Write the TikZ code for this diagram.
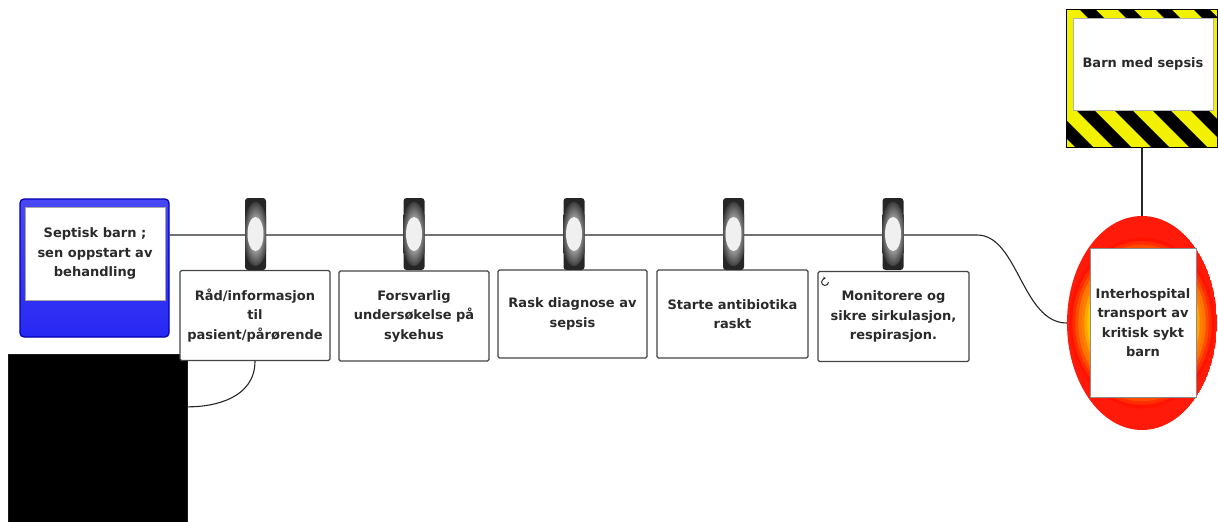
\documentclass[tikz,border=0pt]{standalone}
\usepackage{fontspec}
\setmainfont{DejaVu Sans}
\usetikzlibrary{shapes.geometric,calc,arrows.meta}

\definecolor{inkgray}{HTML}{2A2A2A}
\definecolor{framegray}{HTML}{444444}
\definecolor{bandblue}{HTML}{2828F4}
\definecolor{hazyellow}{HTML}{F2F200}
\definecolor{glowred}{HTML}{FF1A0A}

\tikzset{
  txt/.style={font=\fontsize{13}{19.5}\selectfont\bfseries, text=inkgray, align=center},
  stepbox/.style={txt, draw=framegray, line width=1.1pt, fill=white,
    rounded corners=1.5pt, minimum width=150, minimum height=90, inner sep=1pt},
  clipbar/.style={fill=black!85, rounded corners=3pt, minimum width=21,
    minimum height=72, inner sep=0pt,
    path picture={
      \shade[inner color=white, outer color=black!85]
        (path picture bounding box.center) ellipse [x radius=13, y radius=32];
      \fill[white!94!black] (path picture bounding box.center) ellipse [x radius=8, y radius=17];
    }},
  wire/.style={draw=black!85, line width=1.1pt},
}

\begin{document}
\begin{tikzpicture}[x=1pt, y=-1pt]
\useasboundingbox (0,0) rectangle (1218,522);

% --- start box (blue frame with white label) ---
\node[draw=blue!70!black, line width=1.2pt, rounded corners=4pt,
      top color=bandblue!85, bottom color=bandblue,
      minimum width=149, minimum height=138, inner sep=0pt] (start) at (94.5,268) {};
\node[txt, fill=white, draw=black!35, line width=0.6pt,
      minimum width=140, minimum height=93, inner sep=0pt] (startlabel) at (95,253.5)
  {Septisk barn ;\\sen oppstart av\\behandling};

% --- dark panel ---
\node[fill=black, draw=black!90, minimum width=179, minimum height=168, inner sep=0pt]
  (dark) at (97.5,438) {};

% --- alert box with hazard stripes ---
\node[minimum width=150, minimum height=137, inner sep=0pt] (alert) at (1142,78.5) {};
\begin{scope}
  \clip (alert.north west) rectangle (alert.south east);
  \fill[hazyellow] (alert.north west) rectangle (alert.south east);
  \foreach \a in {1000,1038,...,1230}{
    \fill[black] (\a,110) -- ++(18,0) -- ++(37,37) -- ++(-18,0) -- cycle;
    \fill[black] (\a+2,8) -- ++(16,0) -- ++(10,10) -- ++(-16,0) -- cycle;
  }
\end{scope}
\draw[black, line width=1pt] (alert.north west) rectangle (alert.south east);
\node[txt, fill=white, draw=black!30, line width=0.5pt,
      minimum width=140, minimum height=92, inner sep=0pt] (alertlabel) at (1143,64)
  {Barn med sepsis};

% --- transport ellipse: red rim fading to a warm yellow core ---
\node[ellipse, minimum width=150, minimum height=214, inner sep=0pt] (transfer) at (1142,323) {};
\begin{scope}
  \clip (transfer.center) ellipse [x radius=75, y radius=107];
  \fill[glowred] (transfer.center) ellipse [x radius=75, y radius=107];
  \foreach \s/\c in {0.97/red!85!orange, 0.93/red!65!orange, 0.89/red!40!orange,
                     0.85/orange!90!red, 0.81/orange, 0.77/orange!70!yellow,
                     0.73/orange!45!yellow, 0.69/yellow!75!orange, 0.65/yellow!90!orange}{
    \fill[\c] (transfer.center) ellipse [x radius=75*\s, y radius=88*\s];
  }
\end{scope}
\node[txt, fill=white, draw=black!45, line width=0.6pt,
      minimum width=106, minimum height=149, inner sep=0pt]
  (transferlabel) at (1143,322.5)
  {\fontsize{13}{18.5}\selectfont Interhospital\\transport av\\kritisk sykt\\barn};

% --- main line and its bend into the ellipse ---
\coordinate (bend) at (977,235);
\draw[wire] (start.east |- bend) -- (bend)
  .. controls (1018,235) and (1022,323) .. (transfer.west);
\draw[wire] (alert.south) -- (transfer.north);

% --- steps hanging from the line ---
\node[stepbox] (s1) at (255,315.5) {Råd/informasjon\\til\\pasient/pårørende};
\node[stepbox] (s2) at (414,316)   {Forsvarlig\\undersøkelse på\\sykehus};
\node[stepbox, minimum width=149, minimum height=88] (s3) at (572.5,314) {Rask diagnose av\\sepsis};
\node[stepbox, minimum width=151, minimum height=88] (s4) at (732.5,314) {Starte antibiotika\\raskt};
\node[stepbox, minimum width=151] (s5) at (893.5,316.5) {Monitorere og\\sikre sirkulasjon,\\respirasjon.};

\node[clipbar] (c1) at (255.5,234) {};
\node[clipbar] (c2) at (414,234) {};
\node[clipbar] (c3) at (574,234) {};
\node[clipbar] (c4) at (733.5,234) {};
\node[clipbar] (c5) at (893,234) {};

% small refresh mark on the last step
\coordinate (mark) at (825,282);
\draw[black!80, line width=1pt, -{Stealth[length=2.5pt,width=3.5pt]}]
  ($(mark)+(3.5,0)$) arc[start angle=0, end angle=280, radius=3.5];

% --- link from first step to the dark panel ---
\draw[wire] (s1.south) .. controls (255,398) and (215,407) ..
  ($(dark.north east)!0.315!(dark.south east)$);
\end{tikzpicture}
\end{document}
